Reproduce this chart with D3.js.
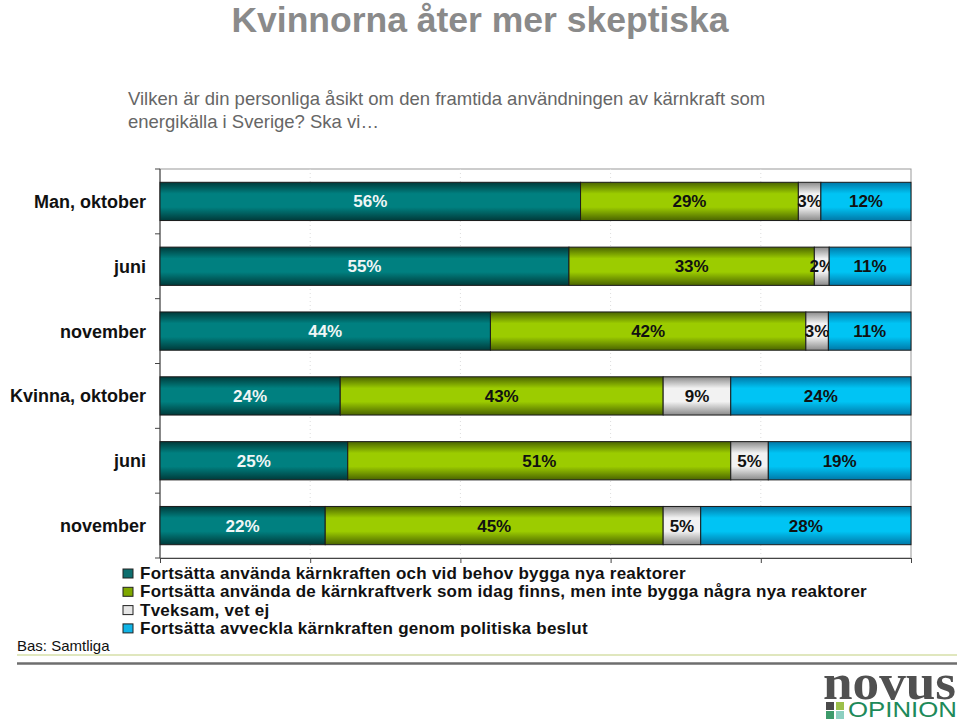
<!DOCTYPE html>
<html><head><meta charset="utf-8">
<script src="https://cdn.jsdelivr.net/npm/d3@7/dist/d3.min.js"></script>
<style>body{margin:0;background:#fff}svg{display:block}text{font-family:Arial,"Liberation Sans",sans-serif}</style>
</head><body>
<script>
const categories = ["Man, oktober","juni","november","Kvinna, oktober","juni","november"];
const seriesNames = [
  "Fortsätta använda kärnkraften och vid behov bygga nya reaktorer",
  "Fortsätta använda de kärnkraftverk som idag finns, men inte bygga några nya reaktorer",
  "Tveksam, vet ej",
  "Fortsätta avveckla kärnkraften genom politiska beslut"
];
const bygga    = [56,55,44,24,25,22];
const anvanda  = [29,33,42,43,51,45];
const tveksam  = [3,2,3,9,5,5];
const avveckla = [12,11,11,24,19,28];
const xTicks = [0,20,40,60,80,100];

const W=960,H=721;
const svg=d3.select("body").append("svg").attr("width",W).attr("height",H);
const defs=svg.append("defs");
const grads=[
  {id:"g0",edge:"#003a3a",mid:"#008080"},
  {id:"g1",edge:"#4a6400",mid:"#9ccc00"},
  {id:"g2",edge:"#8a8a8a",mid:"#f2f2f2"},
  {id:"g3",edge:"#0078a8",mid:"#00c4f4"}
];
grads.forEach(g=>{
  const lg=defs.append("linearGradient").attr("id",g.id).attr("x1",0).attr("y1",0).attr("x2",0).attr("y2",1);
  lg.append("stop").attr("offset","0%").attr("stop-color",g.edge);
  lg.append("stop").attr("offset","30%").attr("stop-color",g.mid);
  lg.append("stop").attr("offset","65%").attr("stop-color",g.mid);
  lg.append("stop").attr("offset","100%").attr("stop-color",g.edge);
});
const legendColors=["#0e6e6e","#7fa800","#e6e6e6","#10b4e6"];
const labelColors=["#f0f6f6","#111","#111","#111"];

// Title
svg.append("text").attr("x",480).attr("y",32).attr("text-anchor","middle")
  .attr("font-size",35.5).attr("font-weight","bold").attr("fill","#8a8a8a").text("Kvinnorna åter mer skeptiska");
svg.append("text").attr("x",128).attr("y",105).attr("font-size",18.5).attr("fill","#666")
  .text("Vilken är din personliga åsikt om den framtida användningen av kärnkraft som");
svg.append("text").attr("x",128).attr("y",128).attr("font-size",18.5).attr("fill","#666")
  .text("energikälla i Sverige? Ska vi…");

const L=160,R=911,T=169,B=558;
const x=d3.scaleLinear().domain([0,100]).range([L,R]);
const y=d3.scaleBand().domain(d3.range(categories.length)).range([T,B]).paddingInner(0.41).paddingOuter(0.205);

// frame
svg.append("rect").attr("x",L).attr("y",T).attr("width",R-L).attr("height",B-T)
  .attr("fill","none").attr("stroke","#999").attr("stroke-width",1);
// grid
svg.append("g").selectAll("line").data(xTicks.slice(1,-1)).join("line")
  .attr("x1",d=>x(d)).attr("x2",d=>x(d)).attr("y1",T).attr("y2",B)
  .attr("stroke","#ddd").attr("stroke-dasharray","1,3");

// axes
const xAxis=svg.append("g").attr("transform",`translate(0,${B})`)
  .call(d3.axisBottom(x).tickValues(xTicks).tickSize(5).tickFormat(""));
xAxis.selectAll("path,line").attr("stroke","#444");
const bandEdges=d3.range(categories.length+1).map(i=>T+i*(B-T)/categories.length);
svg.append("g").selectAll("line").data(bandEdges).join("line")
  .attr("x1",L-5).attr("x2",L).attr("y1",d=>d).attr("y2",d=>d).attr("stroke","#444");
svg.append("line").attr("x1",L).attr("x2",L).attr("y1",T).attr("y2",B).attr("stroke","#444");

// category labels
svg.append("g").selectAll("text").data(categories).join("text")
  .attr("x",146).attr("y",(d,i)=>y(i)+y.bandwidth()/2+6.5)
  .attr("text-anchor","end").attr("font-size",18).attr("font-weight","bold").attr("fill","#111")
  .text(d=>d);

// stacked, normalized
const table=categories.map((c,i)=>({i,s0:bygga[i],s1:anvanda[i],s2:tveksam[i],s3:avveckla[i]}));
const keys=["s0","s1","s2","s3"];
const stack=d3.stack().keys(keys).offset(d3.stackOffsetExpand);
const layers=stack(table);
layers.forEach((layer,k)=>{
  const g=svg.append("g");
  g.selectAll("rect").data(layer).join("rect")
    .attr("x",d=>x(d[0]*100)).attr("width",d=>x(d[1]*100)-x(d[0]*100))
    .attr("y",d=>y(d.data.i)).attr("height",y.bandwidth())
    .attr("fill",`url(#g${k})`).attr("stroke","#1a1a1a").attr("stroke-width",1);
  g.selectAll("text").data(layer).join("text")
    .attr("x",d=>(x(d[0]*100)+x(d[1]*100))/2).attr("y",d=>y(d.data.i)+y.bandwidth()/2+6)
    .attr("text-anchor","middle").attr("font-size",17).attr("font-weight","bold")
    .attr("fill",labelColors[k]).text(d=>d.data[keys[k]]+"%");
});

// legend
const lg=svg.append("g");
seriesNames.forEach((n,k)=>{
  const yy=579+k*18.3;
  lg.append("rect").attr("x",123).attr("y",yy-10).attr("width",10).attr("height",9)
    .attr("fill",legendColors[k]).attr("stroke","#222").attr("stroke-width",1);
  lg.append("text").attr("x",140).attr("y",yy).attr("font-size",17).attr("font-weight","bold")
    .attr("fill","#111").attr("letter-spacing","0.25").text(n);
});
svg.append("text").attr("x",17).attr("y",651).attr("font-size",15).attr("fill","#111").text("Bas: Samtliga");

// bottom lines
svg.append("line").attr("x1",17).attr("x2",957).attr("y1",655).attr("y2",655).attr("stroke","#d6dfa8").attr("stroke-width",1.5);
svg.append("line").attr("x1",17).attr("x2",957).attr("y1",663.5).attr("y2",663.5).attr("stroke","#6e6e6e").attr("stroke-width",2.5);

// logo
const logo=svg.append("g");
logo.append("text").attr("x",823).attr("y",699)
  .style("font-family","'Liberation Serif','DejaVu Serif',serif")
  .attr("font-size",50).attr("font-weight","bold").attr("fill","#505050").attr("textLength",133).attr("lengthAdjust","spacingAndGlyphs").text("novus");
[["#4a4a4a",826,702],["#9cc04a",836,702],["#3c9a6a",826,711],["#8ccfc0",836,711]].forEach(s=>{
  logo.append("rect").attr("x",s[1]).attr("y",s[2]).attr("width",8).attr("height",8).attr("fill",s[0]);
});
logo.append("text").attr("x",848).attr("y",717).attr("font-size",22).attr("fill","#1e8a5a")
  .attr("textLength",109).attr("lengthAdjust","spacingAndGlyphs").text("OPINION");
</script>
</body></html>
